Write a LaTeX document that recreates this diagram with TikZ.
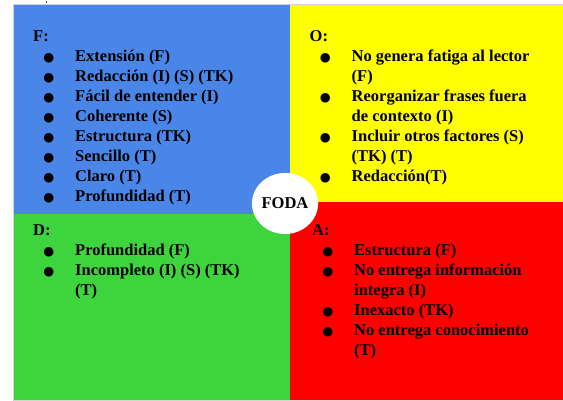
\documentclass[tikz,border=0pt]{standalone}
\usepackage{fontspec}
\setmainfont{Liberation Serif}
\newfontfamily\dejavu{DejaVu Sans}
\usetikzlibrary{shapes.geometric}
\definecolor{qblue}{HTML}{4A86E8}
\definecolor{qyellow}{HTML}{FFFF00}
\definecolor{qgreen}{HTML}{3ED43E}
\definecolor{qred}{HTML}{FF0000}
\definecolor{qborder}{HTML}{D4D4D4}
\newcommand\bul{\makebox[0pt][r]{{\dejavu\fontsize{12.5}{12.5}\selectfont ●}\hspace{21pt}}}
\newcommand\itm[1]{\\\hspace*{42pt}\bul#1}
\newcommand\cont[1]{\\\hspace*{42pt}#1}
\tikzset{
  qtext/.style={inner sep=0pt, anchor=base west, font=\fontsize{16.5}{19.9}\selectfont\bfseries},
  centre/.style={ellipse, fill=white, minimum width=64pt, minimum height=61pt, inner sep=0pt,
     font=\fontsize{16.5}{19.9}\selectfont\bfseries},
}
\begin{document}
\begin{tikzpicture}[x=1pt,y=-1pt]
\useasboundingbox (0,0) rectangle (563,401);
\fill[white] (0,0) rectangle (563,401);
% border and quadrants
\fill[qborder] (12.5,4) rectangle (563,401);
\fill[qblue] (13.5,5) rectangle (289.5,214);
\fill[qyellow] (289.5,5) rectangle (563,202.5);
\fill[qgreen] (13.5,214) rectangle (289.5,399.5);
\fill[qred] (289.5,202.5) rectangle (563,399.5);
\fill[black!70] (45.5,1) rectangle (47,2.8);
% texts
\node[qtext] (ftext) at (33,42) {\begin{minipage}[t]{250pt}F:%
\itm{Extensión (F)}%
\itm{Redacción (I) (S) (TK)}%
\itm{Fácil de entender (I)}%
\itm{Coherente (S)}%
\itm{Estructura (TK)}%
\itm{Sencillo (T)}%
\itm{Claro (T)}%
\itm{Profundidad (T)}\end{minipage}};
\node[qtext] (otext) at (309.5,42) {\begin{minipage}[t]{250pt}O:%
\itm{No genera fatiga al lector}%
\cont{(F)}%
\itm{Reorganizar frases fuera}%
\cont{de contexto (I)}%
\itm{Incluir otros factores (S)}%
\cont{(TK) (T)}%
\itm{Redacción(T)}\end{minipage}};
\node[qtext] (dtext) at (33,236) {\begin{minipage}[t]{250pt}D:%
\itm{Profundidad (F)}%
\itm{Incompleto (I) (S) (TK)}%
\cont{(T)}\end{minipage}};
\node[qtext] (atext) at (312,236) {\begin{minipage}[t]{250pt}A:%
\itm{Estructura (F)}%
\itm{No entrega información}%
\cont{integra (I)}%
\itm{Inexacto (TK)}%
\itm{No entrega conocimiento}%
\cont{(T)}\end{minipage}};
\node[centre] (foda) at (285,203.5) {FODA};
\end{tikzpicture}
\end{document}
